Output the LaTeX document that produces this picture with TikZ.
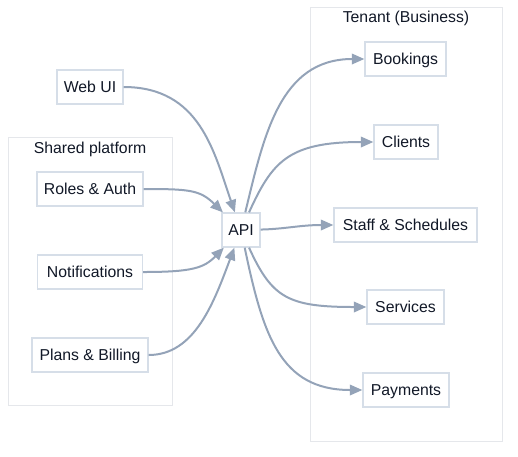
\documentclass[tikz,border=0pt]{standalone}
\usepackage{fontspec}
\setmainfont{Liberation Sans}
\usetikzlibrary{arrows.meta,calc}
\definecolor{edgecol}{HTML}{94A3B8}
\definecolor{boxcol}{HTML}{D6DEE8}
\definecolor{clustcol}{HTML}{E5E7EB}
\definecolor{txtcol}{HTML}{111827}
\tikzset{
  box/.style={draw=boxcol, line width=1.3pt, fill=white, text=txtcol,
    minimum height=34pt, inner xsep=0pt, text height=12.5pt, text depth=1.5pt,
    font=\fontsize{15.8}{18}\selectfont},
  cluster/.style={draw=clustcol, line width=1pt},
  clabel/.style={text=txtcol, text height=12.5pt, text depth=1.5pt, font=\fontsize{15.8}{18}\selectfont},
  edge/.style={draw=edgecol, line width=2pt, -{Triangle[length=12.5pt,width=10.5pt]}}
}
\begin{document}
\begin{tikzpicture}[x=1pt,y=-1pt]
\useasboundingbox (0,0) rectangle (518,456);
% clusters
\draw[cluster] (8,137) rectangle (172,405);
\node[clabel] (sharedlbl) at (90,148) {Shared platform};
\draw[cluster] (310,7) rectangle (502,441);
\node[clabel] (tenantlbl) at (406,17) {Tenant (Business)};
% nodes
\node[box, minimum width=66pt] (webui) at (90,87) {Web UI};
\node[box, minimum width=106pt] (roles) at (90,189) {Roles \& Auth};
\node[box, minimum width=105pt] (notif) at (90,272) {Notifications};
\node[box, minimum width=116pt] (plans) at (90,355) {Plans \& Billing};
\node[box, minimum width=38pt] (api) at (241,230) {API};
\node[box, minimum width=81pt] (bookings) at (405.5,59) {Bookings};
\node[box, minimum width=64pt] (clients) at (406,142) {Clients};
\node[box, minimum width=143pt] (staff) at (405.5,225) {Staff \& Schedules};
\node[box, minimum width=77pt] (services) at (405.5,307) {Services};
\node[box, minimum width=86pt] (payments) at (406,390) {Payments};
% edges in
\draw[edge] (webui) .. controls (200,87) and (214,152) .. (api);
\draw[edge] (roles) .. controls (190,189) and (200,190) .. (api);
\draw[edge] (notif) .. controls (192,272) and (204,268) .. (api);
\draw[edge] (plans) .. controls (195,355) and (214,302) .. (api);
% edges out
\draw[edge] (api) .. controls (264,135) and (280,59) .. (bookings);
\draw[edge] (api) .. controls (272,162) and (288,142) .. (clients);
\draw[edge] (api) .. controls (285,229) and (300,225) .. (staff);
\draw[edge] (api) .. controls (272,298) and (288,307) .. (services);
\draw[edge] (api) .. controls (263,335) and (280,390) .. (payments);
\end{tikzpicture}
\end{document}
